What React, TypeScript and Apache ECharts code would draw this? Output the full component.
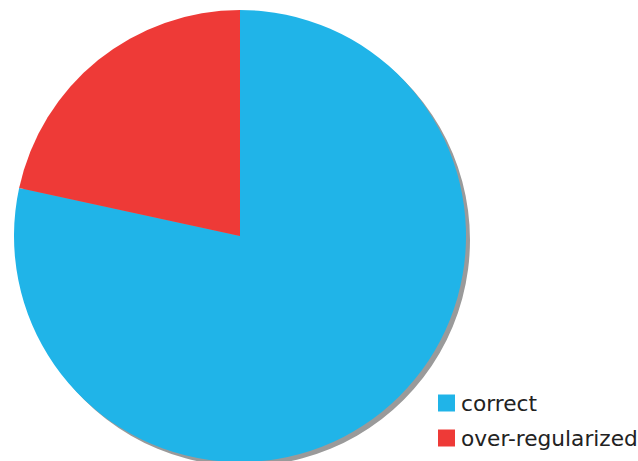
import React, { useEffect, useRef } from "react";
import * as echarts from "echarts";

const categories = ["correct", "over-regularized"];
const values = [78.4, 21.6];
const colors = ["#20B4E8", "#EE3A37"];

export default function App() {
  const ref = useRef<HTMLDivElement>(null);
  useEffect(() => {
    if (!ref.current) return;
    const chart = echarts.init(ref.current, null, { renderer: "svg" });
    chart.setOption({
      animation: false,
      legend: {
        data: categories,
        orient: "vertical",
        left: 433,
        top: 387,
        itemWidth: 17,
        itemHeight: 17,
        itemGap: 13,
        icon: "rect",
        textStyle: { fontFamily: "DejaVu Sans", fontSize: 21.7, lineHeight: 17, color: "#222", padding: [0, 0, 0, 1] },
      },
      series: [
        {
          type: "pie",
          name: "main",
          center: [240, 236],
          radius: 226,
          startAngle: 90,
          clockwise: true,
          z: 3,
          label: { show: false },
          labelLine: { show: false },
          emphasis: { disabled: true },
          itemStyle: { borderWidth: 0 },
          data: categories.map((c, i) => ({ name: c, value: values[i], itemStyle: { color: colors[i] } })),
        },
        {
          type: "pie",
          name: "shadow",
          center: [244, 240],
          radius: 226,
          silent: true,
          z: 1,
          label: { show: false },
          labelLine: { show: false },
          itemStyle: { color: "#9a9a9a", borderWidth: 0 },
          data: [{ name: "", value: 1 }],
        },
      ],
    });
    return () => chart.dispose();
  }, []);
  return (
    <div
      ref={ref}
      style={{ position: "absolute", left: 0, top: 0, width: 638, height: 461 }}
    />
  );
}
